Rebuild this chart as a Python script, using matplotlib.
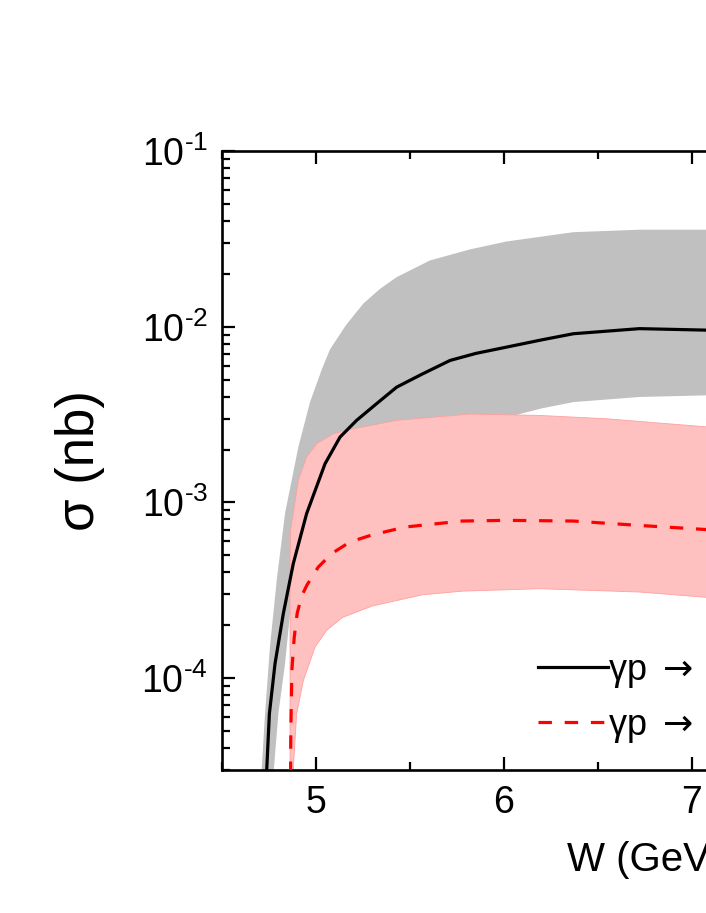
import numpy as np
import matplotlib
matplotlib.use("Agg")
import matplotlib.pyplot as plt
from matplotlib.ticker import LogLocator, MultipleLocator, FuncFormatter, NullFormatter

plt.rcParams['font.family'] = ['Liberation Sans', 'DejaVu Sans']
plt.rcParams['mathtext.fontset'] = 'custom'
plt.rcParams['mathtext.rm'] = 'Liberation Sans'
plt.rcParams['mathtext.it'] = 'Liberation Sans:italic'
plt.rcParams['mathtext.sf'] = 'DejaVu Sans'
plt.rcParams['mathtext.default'] = 'regular'
plt.rcParams['axes.unicode_minus'] = False

# central curves (W in GeV, log10 of sigma in nb)
w_black = [4.730, 4.752, 4.782, 4.826, 4.879, 4.95, 5.048, 5.128, 5.216, 5.32, 5.429, 5.564, 5.713, 5.85, 6.014,
           6.2, 6.369, 6.72, 7.1]
lg_black = [-4.7, -4.203, -3.918, -3.634, -3.349, -3.064, -2.78, -2.628, -2.533, -2.44, -2.344, -2.27, -2.192,
            -2.152, -2.116, -2.075, -2.04, -2.011, -2.02]

w_red = [4.864, 4.866, 4.872, 4.884, 4.90, 4.925, 4.952, 5.012, 5.085, 5.181, 5.298, 5.475, 5.777, 6.014, 6.369,
         6.72, 7.1]
lg_red = [-4.7, -4.3, -3.95, -3.77, -3.63, -3.53, -3.47, -3.368, -3.29, -3.225, -3.185, -3.14, -3.106, -3.102,
          -3.106, -3.131, -3.156]

# gray band
w_gray_up = [4.705, 4.711, 4.729, 4.755, 4.791, 4.835, 4.906, 4.968, 5.032, 5.074, 5.16, 5.252, 5.34, 5.429, 5.606,
             5.819, 6.014, 6.369, 6.72, 7.1]
lg_gray_up = [-4.7, -4.52, -4.203, -3.823, -3.444, -3.064, -2.685, -2.43, -2.24, -2.13, -1.99, -1.868, -1.785, -1.718,
              -1.623, -1.56, -1.515, -1.462, -1.448, -1.448]
w_gray_lo = [4.762, 4.80, 4.835, 4.862, 4.91, 5.0, 5.2, 5.4, 5.66, 6.0, 6.2, 6.369, 6.72, 7.1]
lg_gray_lo = [-4.7, -4.20, -3.92, -3.63, -3.35, -3.12, -2.88, -2.75, -2.62, -2.52, -2.465, -2.429, -2.40, -2.39]

# pink band
w_pink_up = [4.862, 4.862, 4.866, 4.879, 4.906, 4.95, 5.004, 5.092, 5.181, 5.43, 5.82, 6.19, 6.546, 7.1]
lg_pink_up = [-4.7, -3.3, -3.15, -3.064, -2.874, -2.742, -2.666, -2.609, -2.585, -2.533, -2.497, -2.505, -2.524, -2.572]
w_pink_lo = [4.880, 4.879, 4.897, 4.933, 4.995, 5.057, 5.14, 5.298, 5.564, 5.777, 6.19, 6.72, 7.1]
lg_pink_lo = [-4.7, -4.52, -4.203, -4.013, -3.823, -3.728, -3.655, -3.59, -3.526, -3.505, -3.491, -3.51, -3.542]

labels = [r"γp $\mathsf{\rightarrow}$ P$_c$(4312) $\mathsf{\rightarrow}$ J/ψp",
          r"γp $\mathsf{\rightarrow}$ P$_c$(4457) $\mathsf{\rightarrow}$ J/ψp"]


def band(w_up, lg_up, w_lo, lg_lo):
    xs = list(w_up) + list(w_lo)[::-1]
    ys = list(10 ** np.array(lg_up)) + list(10 ** np.array(lg_lo))[::-1]
    return xs, ys


def decade(v, pos):
    e = int(round(np.log10(v)))
    return r"$10^{\text{%d}}$" % e


fig = plt.figure(figsize=(7.06, 9.13), dpi=100)
ax = fig.add_axes([222 / 706, 1 - 770 / 913, 846 / 706, 619 / 913])

gx, gy = band(w_gray_up, lg_gray_up, w_gray_lo, lg_gray_lo)
ax.fill(gx, gy, color='#c0c0c0', lw=0, zorder=1)
px, py = band(w_pink_up, lg_pink_up, w_pink_lo, lg_pink_lo)
ax.fill(px, py, facecolor='#ffc0c0', edgecolor='#ffa0a0', lw=0.6, zorder=2)

ax.plot(w_black, 10 ** np.array(lg_black), color='black', lw=2.3, label=labels[0], zorder=3)
ax.plot(w_red, 10 ** np.array(lg_red), color='red', lw=2.3, ls=(0, (4.2, 4.0)), label=labels[1], zorder=4)

ax.set_yscale('log')
ax.set_xlim(4.5, 9.0)
ax.set_ylim(3e-5, 0.1)
ax.xaxis.set_major_locator(MultipleLocator(1))
ax.xaxis.set_minor_locator(MultipleLocator(0.5))
ax.yaxis.set_major_locator(LogLocator(base=10))
ax.yaxis.set_minor_locator(LogLocator(base=10, subs=np.arange(2, 10)))
ax.yaxis.set_major_formatter(FuncFormatter(decade))
ax.yaxis.set_minor_formatter(NullFormatter())

ax.tick_params(which='both', direction='in', top=True, right=True, width=1.6, labelsize=27)
ax.tick_params(which='major', length=9.5)
ax.tick_params(which='minor', length=5.5)
ax.tick_params(axis='y', pad=10)
ax.tick_params(axis='x', pad=11)
for s in ax.spines.values():
    s.set_linewidth(1.9)

ax.set_xlabel('W (GeV)', fontsize=29, labelpad=14)
ax.set_ylabel('σ (nb)', fontsize=38, labelpad=26)

ax.legend(loc='lower left', bbox_to_anchor=(0.335, -0.012), frameon=False, fontsize=26,
          handlelength=1.95, handletextpad=0.0, labelspacing=0.45)

fig.savefig('out.png', dpi=100)
